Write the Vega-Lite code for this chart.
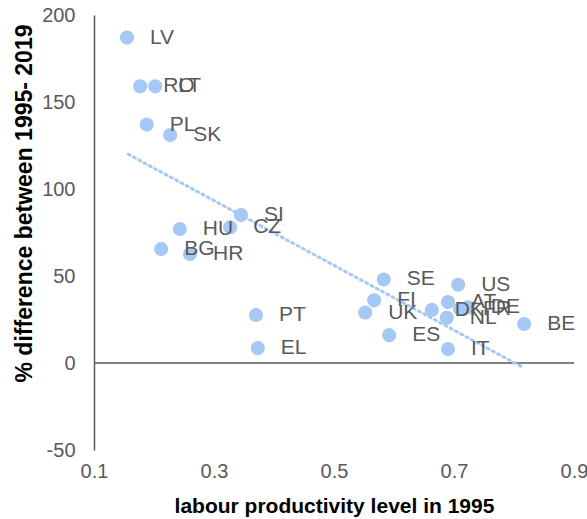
{
  "$schema": "https://vega.github.io/schema/vega-lite/v6.json",
  "width": 480,
  "height": 435,
  "autosize": "none",
  "padding": {"left": 94, "top": 15, "right": 13, "bottom": 69},
  "background": "white",
  "config": {"view": {"stroke": null}, "font": "Liberation Sans"},
  "datasets": {
    "pts": [
      {"c": "LV", "x": 0.155, "y": 187},
      {"c": "RO", "x": 0.177, "y": 159},
      {"c": "LT", "x": 0.202, "y": 159},
      {"c": "PL", "x": 0.188, "y": 137},
      {"c": "SK", "x": 0.227, "y": 131},
      {"c": "SI", "x": 0.345, "y": 85},
      {"c": "CZ", "x": 0.327, "y": 78},
      {"c": "HU", "x": 0.243, "y": 77},
      {"c": "BG", "x": 0.212, "y": 65.5},
      {"c": "HR", "x": 0.26, "y": 62.6},
      {"c": "PT", "x": 0.37, "y": 27.6},
      {"c": "EL", "x": 0.373, "y": 8.6},
      {"c": "SE", "x": 0.583, "y": 48},
      {"c": "FI", "x": 0.567, "y": 36},
      {"c": "UK", "x": 0.552, "y": 29},
      {"c": "ES", "x": 0.592, "y": 16},
      {"c": "US", "x": 0.707, "y": 45},
      {"c": "DK", "x": 0.663, "y": 30.5},
      {"c": "AT", "x": 0.69, "y": 35},
      {"c": "NL", "x": 0.688, "y": 26},
      {"c": "FR", "x": 0.71, "y": 31},
      {"c": "DE", "x": 0.723, "y": 32},
      {"c": "IT", "x": 0.69, "y": 8},
      {"c": "BE", "x": 0.817, "y": 22.4}
    ],
    "trend": [
      {"x": 0.157, "y": 120},
      {"x": 0.812, "y": -2}
    ],
    "zero": [{"y": 0}]
  },
  "layer": [
    {
      "data": {"name": "zero"},
      "mark": {"type": "rule", "color": "#595959", "strokeWidth": 1.5},
      "encoding": {"y": {"field": "y", "type": "quantitative", "scale": {"domain": [-50, 200]}}}
    },
    {
      "data": {"name": "trend"},
      "mark": {"type": "line", "color": "#a6c8f5", "strokeWidth": 3, "strokeDash": [2, 4], "strokeCap": "round"},
      "encoding": {
        "x": {"field": "x", "type": "quantitative"},
        "y": {"field": "y", "type": "quantitative"}
      }
    },
    {
      "data": {"name": "pts"},
      "mark": {"type": "circle", "size": 200, "color": "#a6c8f5", "opacity": 1},
      "encoding": {
        "x": {
          "field": "x", "type": "quantitative",
          "scale": {"domain": [0.1, 0.9], "nice": false, "zero": false},
          "axis": {
            "values": [0.1, 0.3, 0.5, 0.7, 0.9], "format": ".1f",
            "domain": false, "ticks": false, "tickSize": 0, "grid": false,
            "labelFontSize": 20, "labelColor": "#595959", "labelPadding": 11,
            "labelFont": "Liberation Sans", "labelFlush": false,
            "title": "labour productivity level in 1995",
            "titleFontSize": 21, "titleFontWeight": "bold", "titleColor": "#000000",
            "titleFont": "Liberation Sans", "titleBaseline": "alphabetic", "titleY": 62
          }
        },
        "y": {
          "field": "y", "type": "quantitative",
          "scale": {"domain": [-50, 200], "nice": false, "zero": false},
          "axis": {
            "values": [-50, 0, 50, 100, 150, 200],
            "labelExpr": "datum.value < 0 ? '-' + abs(datum.value) : datum.label",
            "domain": true, "domainColor": "#595959", "domainWidth": 1.5,
            "ticks": false, "tickSize": 0, "grid": false,
            "labelFontSize": 20, "labelColor": "#595959", "labelPadding": 19,
            "labelFont": "Liberation Sans", "labelFlush": false,
            "title": "% difference  between 1995- 2019",
            "titleFontSize": 23, "titleFontWeight": "bold", "titleColor": "#000000",
            "titleFont": "Liberation Sans", "titleBaseline": "alphabetic",
            "titleX": -63, "titleY": 188, "titleAngle": -90
          }
        }
      }
    },
    {
      "data": {"name": "pts"},
      "mark": {"type": "text", "align": "left", "baseline": "middle", "dx": 23, "fontSize": 21, "color": "#595959", "font": "Liberation Sans"},
      "encoding": {
        "x": {"field": "x", "type": "quantitative"},
        "y": {"field": "y", "type": "quantitative"},
        "text": {"field": "c"}
      }
    }
  ]
}
